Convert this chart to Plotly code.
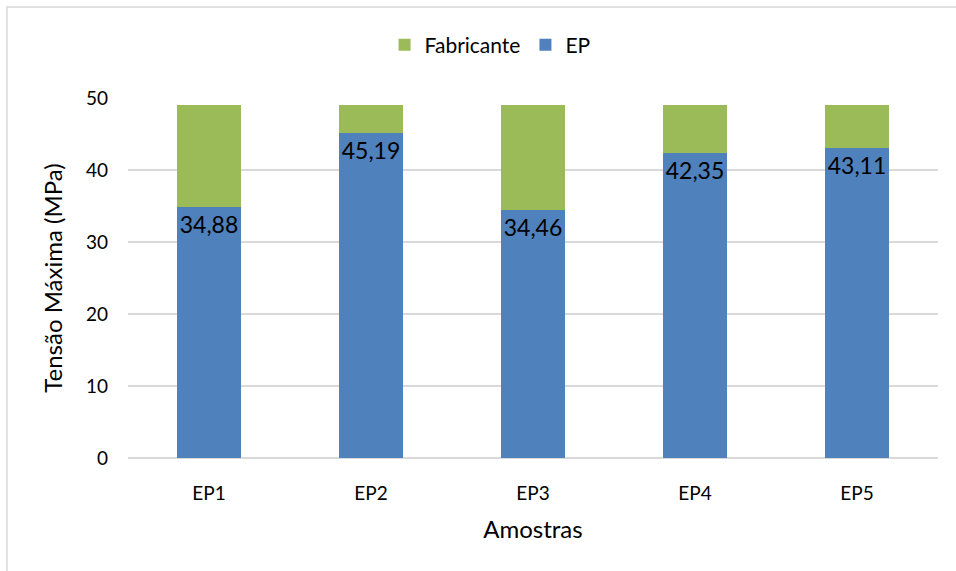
import plotly.graph_objects as go

# Sample names and measured maximum tensile stress (MPa)
amostras = ["EP1", "EP2", "EP3", "EP4", "EP5"]
ep = [34.88, 45.19, 34.46, 42.35, 43.11]
# Manufacturer's nominal maximum stress (MPa)
fabricante = [49.0, 49.0, 49.0, 49.0, 49.0]

# Green segment fills the gap between measured and nominal value
diferenca = [f - e for f, e in zip(fabricante, ep)]
rotulos = [f"{v:.2f}".replace(".", ",") for v in ep]

AZUL = "#4F81BD"
VERDE = "#9BBB59"
FONTE = "Lato, Carlito, Calibri, sans-serif"

fig = go.Figure()
fig.add_trace(go.Bar(
    x=amostras, y=ep, name="EP", marker_color=AZUL, marker_line_width=0,
    text=rotulos, textposition="inside", insidetextanchor="end",
    textfont=dict(size=23, color="#000000", family=FONTE),
    textangle=0,
))
fig.add_trace(go.Bar(
    x=amostras, y=diferenca, name="Fabricante", marker_color=VERDE,
    marker_line_width=0,
))

# Outer chart frame
fig.add_shape(type="rect", xref="paper", yref="paper",
              x0=-0.1494, x1=1.03, y0=-0.33, y1=1.2528,
              line=dict(color="#D9D9D9", width=1.5), fillcolor="rgba(0,0,0,0)",
              layer="below")

fig.update_layout(
    barmode="stack",
    bargap=0.6,
    width=956, height=571,
    margin=dict(l=128, r=18, t=98, b=113),
    paper_bgcolor="white", plot_bgcolor="white",
    font=dict(family=FONTE, size=19, color="#000000"),
    legend=dict(orientation="h", traceorder="reversed",
                x=0.447, xanchor="center", y=1.147, yanchor="middle",
                font=dict(size=21), itemwidth=30,
                bgcolor="rgba(0,0,0,0)"),
    xaxis=dict(title=dict(text="Amostras", font=dict(size=24), standoff=18),
               showline=False, ticks="", tickfont=dict(size=19),
               ticklabelstandoff=22),
    yaxis=dict(title=dict(text="Tensão Máxima (MPa)", font=dict(size=24),
                          standoff=16),
               range=[0, 50], dtick=10, showgrid=True, gridcolor="#D9D9D9",
               gridwidth=1.5, zeroline=True, zerolinecolor="#D9D9D9",
               zerolinewidth=1.5, showline=False, ticks="",
               tickfont=dict(size=19), ticklabelstandoff=19),
)

fig.write_html("out.html")
